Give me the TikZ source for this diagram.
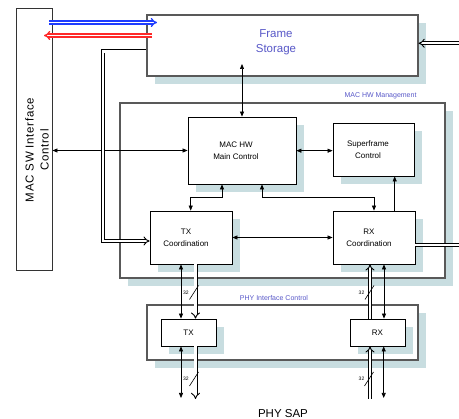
\documentclass[tikz,border=0pt]{standalone}
\usepackage{fontspec}
\setmainfont{Liberation Sans}
\usetikzlibrary{arrows.meta,shadows,calc}

\definecolor{shade}{RGB}{200,221,224}
\definecolor{lblue}{RGB}{88,88,200}
\definecolor{arrblue}{RGB}{30,60,255}
\definecolor{arrred}{RGB}{255,40,40}

\begin{document}
\begin{tikzpicture}[x=1pt,y=-1pt,
  blk/.style={draw=black, line width=0.8pt, fill=white, inner sep=0pt,
    drop shadow={shadow xshift=8pt, shadow yshift=-8pt, fill=shade, opacity=1}},
  grp/.style={blk, draw=black!65, line width=1.1pt},
  txt/.style={font=\fontsize{8}{12}\selectfont, align=center, inner sep=0pt},
  tag/.style={font=\fontsize{7}{8}\selectfont, text=lblue, inner sep=0pt},
  bus/.style={font=\fontsize{5}{6}\selectfont, inner sep=0pt},
  sig/.style={line width=0.7pt, {Triangle[length=5pt,width=4pt]}-{Triangle[length=5pt,width=4pt]}},
  sig1/.style={line width=0.7pt, -{Triangle[length=5pt,width=4pt]}},
  dbl/.style={draw=black, double=white, line width=0.9pt, double distance=2.2pt},
  dbla/.style={dbl, -{Implies[length=3pt]}},
  hot/.style={double=white, line width=1.3pt, double distance=1.6pt, -{Implies[length=3pt]}},
  slash/.style={line width=0.6pt},
]
\useasboundingbox (0,0) rectangle (459,419);

% software interface column
\node[draw=black!80, line width=0.9pt, fill=white, minimum width=36pt, minimum height=262pt, inner sep=0pt] (sw) at (34,139) {};
\node[rotate=90, align=center, font=\fontsize{11.5}{15}\selectfont\addfontfeature{LetterSpace=6}] (swt) at (37,150) {MAC SW Interface\\Control};

% frame storage
\node[grp, minimum width=271pt, minimum height=61pt] (fs) at (282.5,45.5) {};
\node[align=center, text=lblue, font=\fontsize{11.5}{15}\selectfont, inner sep=0pt] (fst) at (276,42.5) {Frame\\Storage};

% MAC hardware management group
\node[grp, minimum width=325pt, minimum height=175pt] (mgmt) at (282.5,190.5) {};
\node[tag] (mgmtt) at (380.5,96) {MAC HW Management};

\node[blk, minimum width=108pt, minimum height=67pt] (main) at (242,150.5) {};
\node[txt] (maint) at (236,151) {MAC HW\\Main Control};

\node[blk, minimum width=81pt, minimum height=53pt] (sf) at (373.5,149.5) {};
\node[txt] (sft) at (368,150) {Superframe\\Control};

\node[blk, minimum width=82pt, minimum height=53pt] (txc) at (191,237.5) {};
\node[txt] (txct) at (186,238) {TX\\Coordination};

\node[blk, minimum width=82pt, minimum height=53pt] (rxc) at (374,237.5) {};
\node[txt] (rxct) at (369,238) {RX\\Coordination};

% PHY interface group
\node[grp, minimum width=271pt, minimum height=55pt] (phy) at (282.5,332.5) {};
\node[tag] (phyt) at (274,298.5) {PHY Interface Control};

\node[blk, txt, minimum width=55pt, minimum height=27pt] (ptx) at (188.5,332.5) {TX};
\node[blk, txt, minimum width=55pt, minimum height=27pt] (prx) at (377.5,332.5) {RX};

\node[font=\fontsize{11.5}{14}\selectfont, anchor=base, inner sep=0pt] (sap) at (283,418) {PHY SAP};

% control connections
\draw[sig] (sw.east |- main.west) -- (main.west);
\draw[sig] (main.north) -- (main.north |- 0,64);
\draw[sig] (main.east |- 0,150.7) -- (sf.west |- 0,150.7);
\draw[sig] (main.south -| 222,0) -- (222,197.3) -- (190.7,197.3) -- (txc.north -| 190.7,0);
\draw[sig] (main.south -| 262,0) -- (262,197.3) -- (374,197.3) -- (rxc.north -| 374,0);
\draw[sig1] (rxc.north -| 394.7,0) -- (sf.south -| 394.7,0);
\draw[sig] (txc.east) -- (rxc.west);

% data paths
\coordinate (fsbend) at (103.3,51.5);
\draw[dbla] (fs.west |- fsbend) -- (fsbend) -- (103.3,241) -- (txc.west |- 0,241);
\coordinate (fsin) at (459,43.3);
\draw[dbla] (fsin) -- (fs.east |- fsin);
\coordinate (rxout) at (459,245);
\draw[dbl] (rxc.east |- rxout) -- (rxout);

% TX side
\draw[sig] (txc.south -| 181,0) -- (ptx.north -| 181,0);
\draw[dbla] (txc.south -| 195.5,0) -- (ptx.north -| 195.5,0);
\coordinate (txsapa) at (181,398);
\coordinate (txsapb) at (195.5,399);
\draw[sig] (ptx.south -| txsapa) -- (txsapa);
\draw[dbla] (ptx.south -| txsapb) -- (txsapb);

% RX side
\coordinate (rxsapa) at (370,399);
\coordinate (rxsapb) at (383.7,398);
\draw[dbla] (rxsapa) -- (prx.south -| rxsapa);
\draw[sig] (prx.south -| rxsapb) -- (rxsapb);
\draw[dbla] (prx.north -| 370,0) -- (rxc.south -| 370,0);
\draw[sig] (rxc.south -| 384,0) -- (prx.north -| 384,0);

% bus width marks
\foreach \n/\sx/\sy/\lx in {b1/194/292.5/186, b2/194/379/186, b3/369.5/292.5/361.5, b4/369/379/361.5}{
  \coordinate (\n) at (\sx,\sy);
  \draw[slash] ($(\n)+(-4.5,7)$) -- ($(\n)+(4.5,-7)$);
  \node[bus] (\n t) at (\lx,\sy) {32};
}

% software/storage transfer arrows
\coordinate (bs) at (49,22.5);
\coordinate (be) at (157,22.5);
\coordinate (rs) at (152,35.5);
\coordinate (re) at (44,35.5);
\draw[hot, draw=arrblue] (bs) -- (be);
\draw[hot, draw=arrred] (rs) -- (re);
\end{tikzpicture}
\end{document}
